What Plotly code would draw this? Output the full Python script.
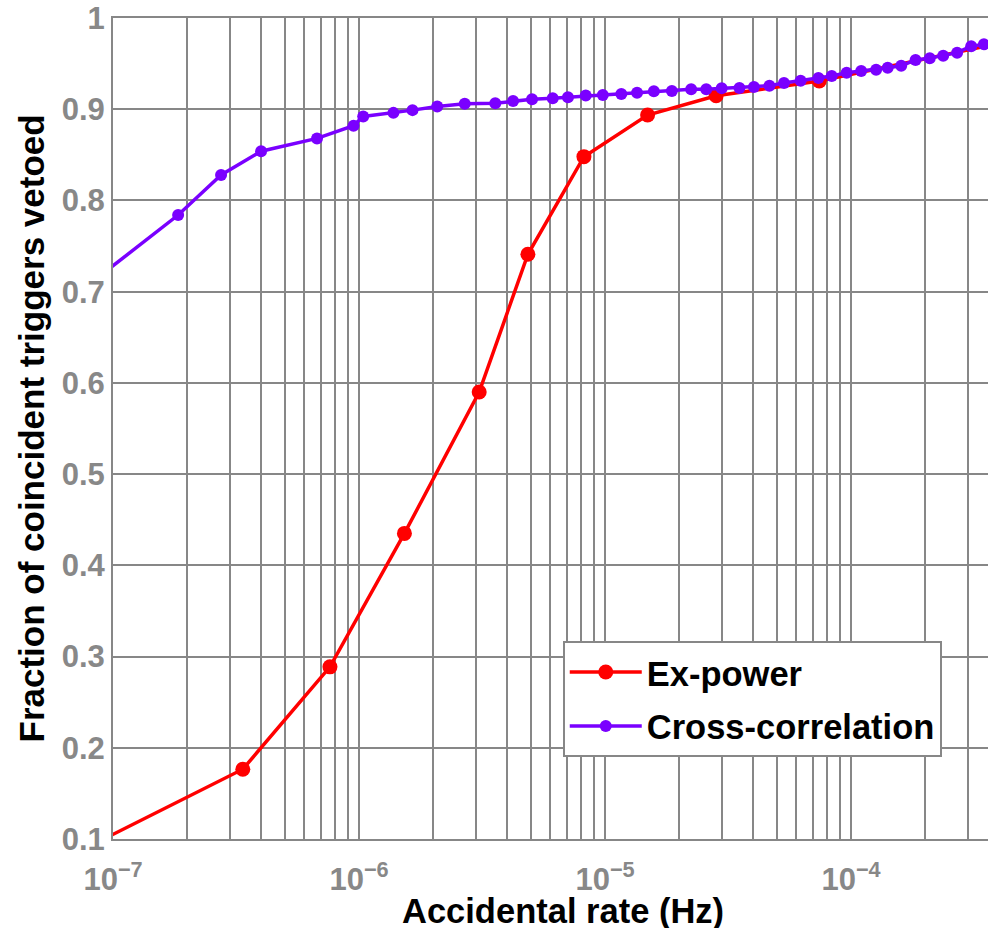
import numpy as np
import plotly.graph_objects as go

# Ex-power veto: accidental rate (Hz) vs fraction of coincident triggers vetoed
ex_rate = [8.0e-8, 3.37e-7, 7.62e-7, 1.53e-6, 3.08e-6, 4.86e-6, 8.21e-6,
           1.49e-5, 2.83e-5, 7.43e-5, 4.5e-4]
ex_frac = [0.092, 0.1765, 0.2887, 0.435, 0.590, 0.741, 0.848,
           0.8936, 0.9148, 0.9309, 0.975]

# Cross-correlation veto
xc_rate = [8.0e-8, 1.84e-7, 2.75e-7, 4.0e-7, 6.75e-7, 9.5e-7, 1.04e-6, 1.38e-6,
           1.65e-6, 2.08e-6, 2.69e-6, 3.58e-6, 4.23e-6, 5.05e-6, 6.13e-6, 7.07e-6,
           8.35e-6, 9.8e-6, 1.165e-5, 1.35e-5, 1.58e-5, 1.87e-5, 2.24e-5, 2.58e-5,
           2.98e-5, 3.52e-5, 4.03e-5, 4.66e-5, 5.34e-5, 6.24e-5, 7.37e-5, 8.35e-5,
           9.6e-5, 1.10e-4, 1.265e-4, 1.41e-4, 1.60e-4, 1.83e-4, 2.09e-4, 2.37e-4,
           2.70e-4, 3.08e-4, 3.47e-4]
xc_frac = [0.708, 0.784, 0.828, 0.854, 0.868, 0.882, 0.892, 0.896,
           0.899, 0.903, 0.906, 0.9065, 0.909, 0.911, 0.912, 0.913,
           0.915, 0.9156, 0.9167, 0.918, 0.9196, 0.920, 0.9218, 0.922,
           0.9229, 0.9232, 0.9243, 0.9258, 0.9287, 0.9313, 0.9342, 0.9364,
           0.940, 0.9419, 0.9433, 0.9455, 0.9477, 0.954, 0.956, 0.9587,
           0.962, 0.969, 0.9711]

# Axis ticks
decades = [-7, -6, -5, -4]
x_tickvals = [m * 10.0 ** d for d in decades for m in range(1, 10)]
x_ticktext = [(f"10<sup>\u2212{-d}</sup>" if m == 1 else "") for d in decades for m in range(1, 10)]
y_tickvals = [0.1, 0.2, 0.3, 0.4, 0.5, 0.6, 0.7, 0.8, 0.9, 1.0]
y_ticktext = ["0.1", "0.2", "0.3", "0.4", "0.5", "0.6", "0.7", "0.8", "0.9", "1"]

FONT = "Liberation Sans, Arial, sans-serif"
GRID = "#878787"

fig = go.Figure()
fig.add_trace(go.Scatter(
    x=ex_rate, y=ex_frac, mode="lines+markers", name="Ex-power",
    legendgroup="ex",
    line=dict(color="#ff0000", width=3.5),
    marker=dict(color="#ff0000", size=15),
))
fig.add_trace(go.Scatter(
    x=xc_rate, y=xc_frac, mode="lines+markers", name="Cross-correlation",
    legendgroup="xc",
    line=dict(color="#7a00ff", width=3.5),
    marker=dict(color="#7a00ff", size=12),
))

fig.update_layout(
    width=988, height=928,
    margin=dict(l=113, r=0, t=18, b=89),
    paper_bgcolor="white", plot_bgcolor="white",
    font=dict(family=FONT, color="black"),
    showlegend=True,
    legend=dict(
        x=0.514, y=0.241, xanchor="left", yanchor="top",
        bgcolor="white", bordercolor=GRID, borderwidth=2,
        traceorder="grouped", tracegroupgap=6, itemwidth=72,
        font=dict(family=FONT, size=34.5, color="black", weight="bold"),
    ),
    xaxis=dict(
        type="log", range=[-7, -7 + 875 / 246],
        tickvals=x_tickvals, ticktext=x_ticktext, tickmode="array",
        showgrid=True, gridcolor=GRID, gridwidth=2,
        showline=True, linecolor=GRID, linewidth=2, mirror=True,
        ticks="", zeroline=False, ticklabelstandoff=12,
        tickfont=dict(family=FONT, size=31, color="#888888", weight="bold"),
    ),
    yaxis=dict(
        range=[0.1, 1.0],
        tickvals=y_tickvals, ticktext=y_ticktext, tickmode="array",
        showgrid=True, gridcolor=GRID, gridwidth=2,
        showline=True, linecolor=GRID, linewidth=2,
        ticks="", zeroline=False,
        tickfont=dict(family=FONT, size=31, color="#888888", weight="bold"),
    ),
    annotations=[
        dict(text="Accidental rate (Hz)", xref="paper", yref="paper",
             x=0.514, y=0, xanchor="center", yanchor="middle", yshift=-72,
             showarrow=False,
             font=dict(family=FONT, size=34.5, color="black", weight="bold")),
        dict(text="Fraction of coincident triggers vetoed", xref="paper", yref="paper",
             x=0, y=0.5, xanchor="center", yanchor="middle", xshift=-82,
             textangle=-90, showarrow=False,
             font=dict(family=FONT, size=35, color="black", weight="bold")),
    ],
)

fig.write_html("out.html")
